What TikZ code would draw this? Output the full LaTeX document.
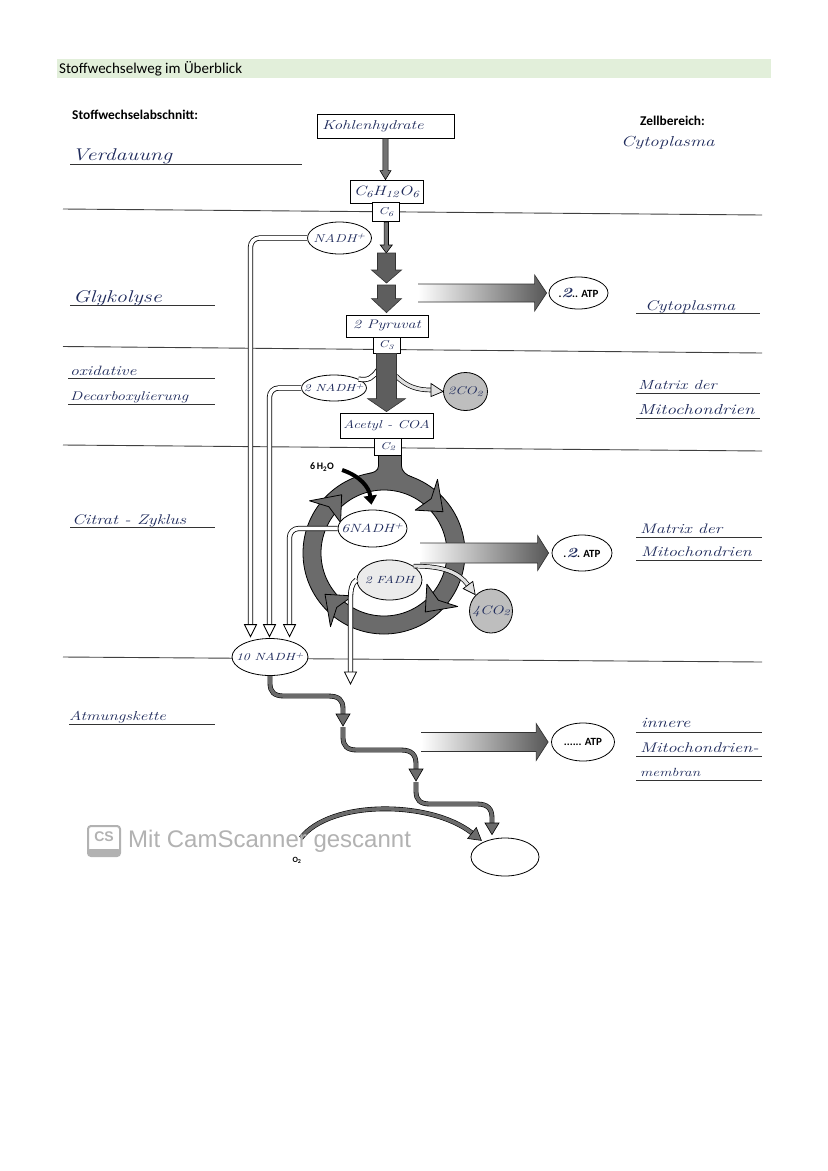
\documentclass[tikz,border=0pt]{standalone}
\usepackage{fontspec}
\newfontfamily\calib{Carlito}
\newfontfamily\wmfont{Liberation Sans}
\newfontfamily\hand[FakeStretch=1.3]{Latin Modern Roman}
\usetikzlibrary{calc,arrows.meta,shapes.geometric}
\definecolor{ink}{HTML}{1F2B5C}
\definecolor{hdr}{HTML}{E2EFDA}
\definecolor{ringc}{HTML}{6B6B6B}
\definecolor{flowc}{HTML}{5E5E5E}
\definecolor{co2c}{HTML}{BEBEBE}
\definecolor{wm}{HTML}{B2B2B2}
\newcommand\hwf[1]{\hand\itshape\fontsize{#1}{#1}\selectfont}
\newcommand\zw[1]{\makebox[0pt]{#1}}
\newcommand\vfat[6]{\path[#1] let \p1=#2, \p2=#3 in (\x1-#4pt,\y1) -- (\x1-#4pt,\y2+#6pt) -- (\x1-#5pt,\y2+#6pt) -- (\x1,\y2) -- (\x1+#5pt,\y2+#6pt) -- (\x1+#4pt,\y2+#6pt) -- (\x1+#4pt,\y1) -- cycle;}
\newcommand\hgrad[5]{%
\shade[left color=white, middle color=black!14, right color=black!66] let \p1=#1, \p2=#2 in (\x1,\y2+#3pt) -- (\x2-#5pt,\y2+#3pt) -- (\x2-#5pt,\y2+#4pt) -- (\x2,\y2) -- (\x2-#5pt,\y2-#4pt) -- (\x2-#5pt,\y2-#3pt) -- (\x1,\y2-#3pt) -- cycle;
\draw[line width=0.7pt, black!80] let \p1=#1, \p2=#2 in (\x1,\y2+#3pt) -- (\x2-#5pt,\y2+#3pt) -- (\x2-#5pt,\y2+#4pt) -- (\x2,\y2) -- (\x2-#5pt,\y2-#4pt) -- (\x2-#5pt,\y2-#3pt) -- (\x1,\y2-#3pt);}
\begin{document}
\begin{tikzpicture}[x=1pt,y=-1pt,
  hwl/.style={anchor=base west, inner sep=0pt, text=ink},
  box/.style={draw, fill=white, line width=0.8pt, inner sep=0pt, text=ink},
  oval/.style={ellipse, draw, fill=white, line width=0.8pt, inner sep=0pt, text=ink},
  sep/.style={line width=0.9pt, black!75},
  uline/.style={line width=0.8pt, black!80},
  pipe/.style={draw=black, double=white, double distance=3.6pt, line width=0.8pt},
  pipehead/.style={draw=black, fill=white, line width=0.8pt},
  pipetwo/.style={draw=black, double=black!12, double distance=3.2pt, line width=0.7pt},
  pipetwohead/.style={draw=black, fill=black!12, line width=0.7pt},
  thinflow/.style={fill=black!55, draw=black, line width=0.6pt},
  darkflow/.style={fill=flowc, draw=black!80, line width=0.6pt},
  ringhead/.style={fill=ringc, draw=black, line width=0.8pt, line join=round},
  wave/.style={draw=black, double=black!58, double distance=3.6pt, line width=0.6pt},
  wavehead/.style={draw=black, fill=black!58, line width=0.6pt}]
\path[use as bounding box] (0,0) rectangle (828,1171);
\fill[white] (0,0) rectangle (828,1171);
% header
\fill[hdr] (57,59) rectangle (771,78);
\node[anchor=west, inner sep=0pt, font=\calib\fontsize{15}{15}\selectfont] (title) at (59,68.5) {Stoffwechselweg im Überblick};
\node[anchor=base west, inner sep=0pt, font=\calib\bfseries\fontsize{13.4}{13.4}\selectfont] (hleft) at (72,119) {Stoffwechselabschnitt:};
\node[anchor=base west, inner sep=0pt, font=\calib\bfseries\fontsize{13.4}{13.4}\selectfont] (hright) at (640,125) {Zellbereich:};
% separators
\draw[sep] (63,209) -- (762,215);
\draw[sep] (63,346.5) -- (762,353);
\draw[sep] (63,445) -- (762,451);
\draw[sep] (63,657) -- (762,662);
% left labels
\draw[uline] (70,164) -- (302,164);
\node[hwl, font=\hwf{17}] (lverd) at (72,160) {Verdauung};
\draw[uline] (70,305) -- (215,305);
\node[hwl, font=\hwf{17}] (lglyk) at (73,302) {Glykolyse};
\draw[uline] (68,378) -- (215,378);
\node[hwl, font=\hwf{13.5}] (loxi) at (70,375) {oxidative};
\draw[uline] (68,404) -- (215,404);
\node[hwl, font=\hwf{12.6}] (ldec) at (70,400) {Decarboxylierung};
\draw[uline] (70,527) -- (215,527);
\node[hwl, font=\hwf{14}] (lcit) at (72,524) {Citrat - Zyklus};
\draw[uline] (69,724) -- (215,724);
\node[hwl, font=\hwf{13}] (latm) at (69,720) {Atmungskette};
% right labels
\node[hwl, font=\hwf{14.5}] (rcyt0) at (621,146) {Cytoplasma};
\draw[uline] (636,313) -- (760,313);
\node[hwl, font=\hwf{14}] (rcyt) at (645,310) {Cytoplasma};
\draw[uline] (636,393) -- (760,393);
\node[hwl, font=\hwf{13.2}] (rmat1) at (638,389) {Matrix der};
\draw[uline] (636,418) -- (760,418);
\node[hwl, font=\hwf{14.5}] (rmit1) at (638,414) {Mitochondrien};
\draw[uline] (636,537) -- (762,537);
\node[hwl, font=\hwf{13.8}] (rmat2) at (640,533) {Matrix der};
\draw[uline] (636,560) -- (762,560);
\node[hwl, font=\hwf{13.8}] (rmit2) at (641,556) {Mitochondrien};
\draw[uline] (636,732) -- (762,732);
\node[hwl, font=\hwf{14.2}] (rinn) at (641,727) {innere};
\draw[uline] (636,756) -- (762,756);
\node[hwl, font=\hwf{14}] (rmit3) at (640,752) {Mitochondrien-};
\draw[uline] (636,780) -- (762,780);
\node[hwl, font=\hwf{11.8}] (rmem) at (640,776) {membran};
% citrate cycle ring
\coordinate (rc) at (384,553);
\fill[ringc, even odd rule] (rc) circle[radius=81] (rc) circle[radius=63];
\draw[line width=0.8pt] (rc) circle[radius=81] (rc) circle[radius=63];
\fill[ringc] (378.5,455) -- (378.5,466) .. controls (378.5,471) and (373,473) .. (368,473.6) -- (368,487) -- (412,487) -- (412,477) .. controls (406,475) and (401.5,471) .. (401.5,466) -- (401.5,455) -- cycle;
\draw[line width=0.8pt] (378.5,455) -- (378.5,466) .. controls (378.5,471) and (373,473) .. (368,473.6);
\draw[line width=0.8pt] (401.5,455) -- (401.5,466) .. controls (401.5,471) and (406,475) .. (412,477);
\foreach \a in {-136,-45,45,135}
  \filldraw[ringhead] ($(rc)+({53*cos(\a-9)},{53*sin(\a-9)})$) -- ($(rc)+({72*cos(\a+10)},{72*sin(\a+10)})$) -- ($(rc)+({91*cos(\a-9)},{91*sin(\a-9)})$) -- ($(rc)+({72*cos(\a-4)},{72*sin(\a-4)})$) -- cycle;
% boxes
\node[box, font=\hwf{12.9}, minimum width=137pt, minimum height=24pt, text width=127pt, align=left] (kh) at (385.5,126) {Kohlenhydrate};
\node[box, font=\hwf{13.5}, minimum width=73pt, minimum height=23pt] (c6h) at (386.5,191.5) {C\textsubscript{6}H\textsubscript{12}O\textsubscript{6}};
\node[box, font=\hwf{10}, minimum width=27pt, minimum height=19pt] (c6) at (386.3,212.2) {C\textsubscript{6}};
\node[box, font=\hwf{12.4}, minimum width=82pt, minimum height=22pt] (pyr) at (387,326) {2 Pyruvat};
\node[box, font=\hwf{10}, minimum width=27pt, minimum height=16pt] (c3) at (386.5,345) {C\textsubscript{3}};
\node[box, font=\hwf{11.5}, minimum width=93pt, minimum height=25pt] (acet) at (386.5,425.5) {Acetyl - COA};
\node[box, font=\hwf{10}, minimum width=27pt, minimum height=17pt] (c2) at (388,446.5) {C\textsubscript{2}};
% ellipses
\node[oval, font=\hwf{11.4}, minimum width=64pt, minimum height=32pt] (nadh1) at (339.5,238) {\zw{NADH\textsuperscript{+}}};
\node[oval, font=\hwf{10.3}, minimum width=65pt, minimum height=26pt] (nadh2) at (334,388) {\zw{2 NADH\textsuperscript{+}}};
\node[oval, font=\hwf{11.4}, fill=co2c, minimum width=44pt, minimum height=38pt] (co2a) at (465.5,391.5) {\zw{2CO\textsubscript{2}}};
\node[oval, font=\hwf{11.9}, minimum width=69pt, minimum height=37pt] (nadh6) at (372.5,528.5) {\zw{6NADH\textsuperscript{+}}};
\node[oval, font=\hwf{10.4}, fill=black!8, minimum width=65pt, minimum height=40pt] (fadh) at (389.5,580) {\zw{2 FADH}};
\node[oval, font=\hwf{12.4}, fill=co2c, minimum width=43pt, minimum height=44pt] (co2b) at (491,611) {\zw{4CO\textsubscript{2}}};
\node[oval, text=black, font=\calib\bfseries\fontsize{11}{11}\selectfont, minimum width=59pt, minimum height=32pt] (atp1) at (578.5,293) {\zw{.\textcolor{ink}{\hwf{14}2}.. ATP}};
\node[oval, text=black, font=\calib\bfseries\fontsize{11}{11}\selectfont, minimum width=60pt, minimum height=36pt] (atp2) at (582,553) {\zw{.\textcolor{ink}{\hwf{14}2}. ATP}};
\node[oval, text=black, font=\calib\bfseries\fontsize{11}{11}\selectfont, minimum width=63pt, minimum height=38pt] (atp3) at (583,742) {\zw{...... ATP}};
\node[oval, font=\hwf{10.4}, minimum width=76pt, minimum height=37pt] (nadh10) at (270,657) {\zw{10 NADH\textsuperscript{+}}};
\node[oval, minimum width=68pt, minimum height=38pt] (final) at (505,857) {};
% main flow arrows
\coordinate (ga) at (386.5,253);
\coordinate (gb) at (386.5,283);
\coordinate (gc) at (386.5,285);
\vfat{thinflow}{(kh.south)}{(c6h.north)}{2.6}{5.5}{9}
\vfat{thinflow}{(c6.south)}{(ga)}{2.2}{6}{8}
\vfat{darkflow}{(ga)}{(gb)}{9}{15}{13}
\vfat{darkflow}{(gc)}{([yshift=2pt]pyr.north)}{9}{15}{14}
% pipes to 10 NADH+
\coordinate (pa1) at ($(nadh10.north)+(-19.5,-13.5)$);
\coordinate (pa2) at ($(nadh10.north)+(-0.5,-13.5)$);
\coordinate (pa3) at ($(nadh10.north)+(19.5,-13.5)$);
\draw[pipe, rounded corners=9pt] (nadh1.west) -| (pa1);
\draw[pipehead] ($(pa1)+(-6,0)$) -- ($(pa1)+(6,0)$) -- ($(pa1)+(0,12)$) -- cycle;
\draw[pipe, rounded corners=9pt] (nadh2.west) -| (pa2);
\draw[pipehead] ($(pa2)+(-6,0)$) -- ($(pa2)+(6,0)$) -- ($(pa2)+(0,12)$) -- cycle;
\draw[pipe, rounded corners=9pt] (nadh6.west) -| (pa3);
\draw[pipehead] ($(pa3)+(-6,0)$) -- ($(pa3)+(6,0)$) -- ($(pa3)+(0,12)$) -- cycle;
% FADH pipe
\coordinate (pf) at (350.5,672);
\draw[pipe] (fadh.west) .. controls (351.5,583) and (350.5,590) .. (350.5,600) -- (pf);
\draw[pipehead] ($(pf)+(-6,0)$) -- ($(pf)+(6,0)$) -- ($(pf)+(0,12)$) -- cycle;
% oxidative decarboxylation side pipes
\coordinate (s2a) at (378,370);
\coordinate (s2b) at (396,376);
\draw[pipe] (s2a) .. controls (373,377) and (369,381) .. (nadh2.20);
\draw[pipetwo] (s2b) .. controls (407,387) and (418,390) .. (431,390);
\draw[pipetwohead] (431,383.5) -- (co2a.west) -- (431,396.5) -- cycle;
\vfat{darkflow}{(c3.south)}{([yshift=1pt]acet.north)}{10}{19}{13}
% 4 CO2 pipe
\draw[pipetwo] (fadh.30) .. controls (445,566) and (459,573) .. (468,585);
\draw[pipetwohead] (463.2,588.6) -- (475.2,594.6) -- (472.8,581.4) -- cycle;
% 6 H2O
\node[inner sep=0pt, font=\calib\bfseries\fontsize{10}{10}\selectfont] (h2o) at (322,467) {6\,H\textsubscript{2}O};
\draw[line width=4pt, -{Triangle[length=9pt,width=13pt]}] ([xshift=8pt,yshift=-3pt]h2o.east) .. controls (360,476) and (369,487) .. ([xshift=-1pt,yshift=5pt]nadh6.north);
% gradient ATP arrows
\coordinate (g1s) at (418,291);
\coordinate (g2s) at (420,550);
\coordinate (g3s) at (421,741);
\hgrad{(g1s)}{([xshift=-2pt]atp1.west)}{9}{18}{12}
\hgrad{(g2s)}{([xshift=-3pt]atp2.west)}{10}{17.5}{11}
\hgrad{(g3s)}{([xshift=-3pt]atp3.west)}{9.5}{18.5}{12}
% respiratory chain
\draw[wave] (nadh10.south) -- (270,683) .. controls (270,692) and (274,696) .. (284,696) -- (328,696) .. controls (339,696) and (343,700) .. (343,709) -- (343,714);
\draw[wavehead] (336,714) -- (350,714) -- (343,726) -- cycle;
\draw[wave] (343,727) -- (343,737) .. controls (343,746) and (347,750) .. (357,750) -- (401,750) .. controls (412,750) and (416,755) .. (416,764) -- (416,769);
\draw[wavehead] (409,769) -- (423,769) -- (416,781) -- cycle;
\draw[wave] (416,782) -- (416,791) .. controls (416,800) and (420,804) .. (430,804) -- (477,804) .. controls (488,804) and (492,809) .. (492,818) -- (492,823);
\draw[wavehead] (485,823) -- (499,823) -- ([xshift=-13pt,yshift=3pt]final.north) -- cycle;
\coordinate (o2s) at (301,838);
\draw[wave] (o2s) .. controls (330,800) and (430,800) .. (472,833);
\draw[wavehead] (467.7,838.5) -- (481.4,840.4) -- (476.3,827.5) -- cycle;
% watermark
\draw[wm, line width=2pt, rounded corners=3pt] (88,826) rectangle (120,856);
\fill[wm, rounded corners=2pt] (88,849) rectangle (120,856);
\node[text=wm, inner sep=0pt, font=\wmfont\bfseries\fontsize{14}{14}\selectfont] (wmcs) at (104,837) {CS};
\node[anchor=west, inner sep=0pt, text=wm, font=\wmfont\fontsize{24}{24}\selectfont] (wmt) at (128,841) {Mit CamScanner gescannt};
\node[inner sep=0pt, font=\calib\bfseries\fontsize{8}{8}\selectfont] (o2) at (297,860) {O\textsubscript{2}};
\end{tikzpicture}
\end{document}
